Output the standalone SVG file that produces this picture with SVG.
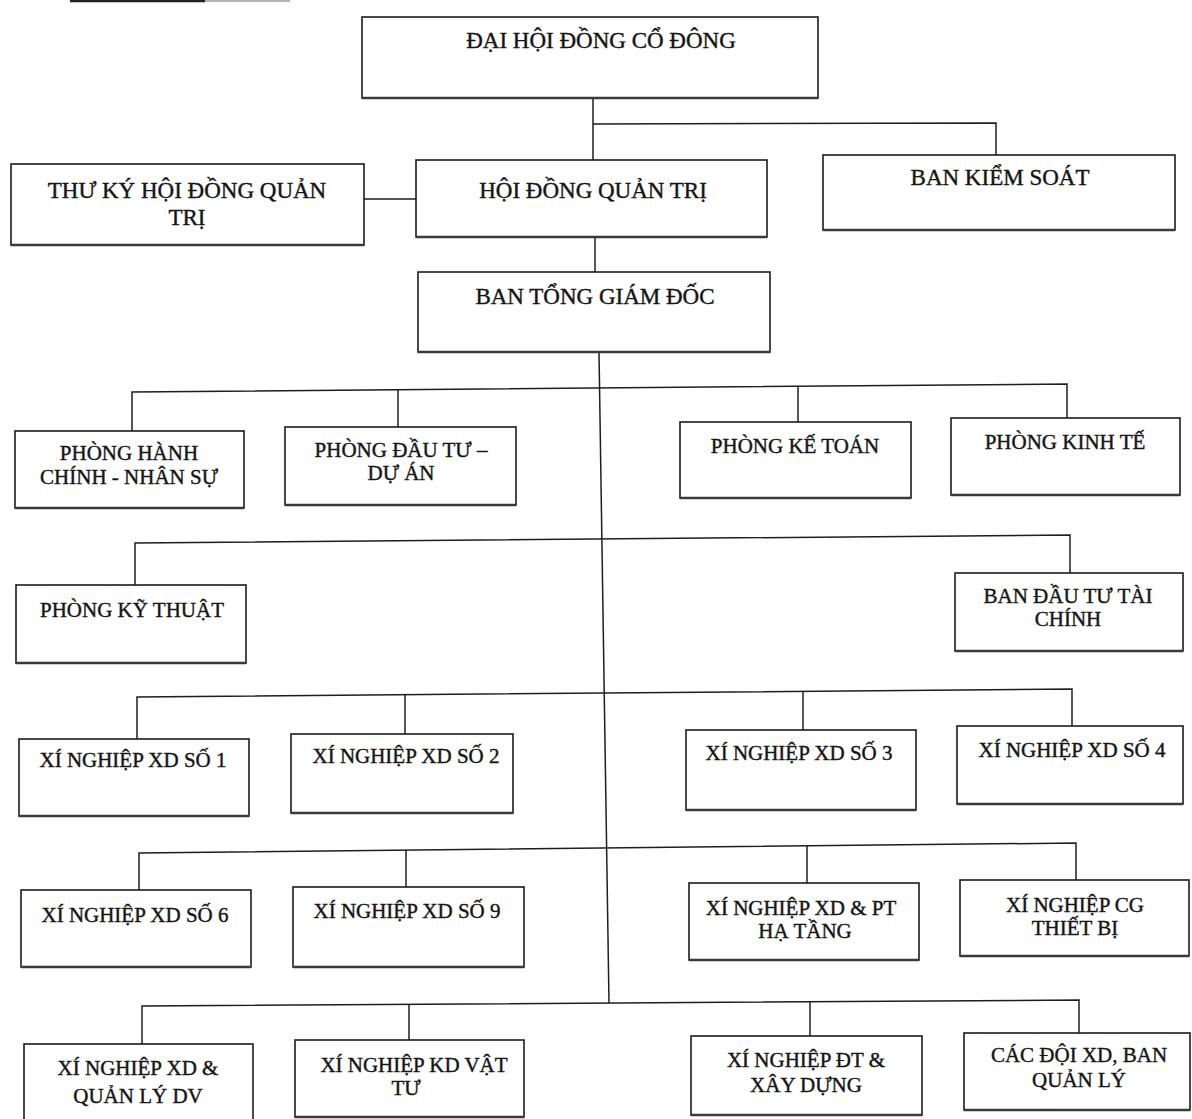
<svg xmlns="http://www.w3.org/2000/svg" width="1192" height="1119" viewBox="0 0 1192 1119">
<style>
.node rect{fill:#fff;stroke:#1c1c1c;stroke-width:1.6}
.node line{stroke:#3a3a3a;stroke-width:2.4}
.conn path{fill:none;stroke:#1e1e1e;stroke-width:1.5}
text{font-family:"Liberation Serif","Times New Roman",serif;font-size:21px;fill:#151515;stroke:#151515;stroke-width:0.4;text-anchor:middle}
.big{font-size:23px}
</style>
<rect width="1192" height="1119" fill="#fff"/>
<line x1="70" y1="1" x2="205" y2="1" stroke="#222" stroke-width="2.5"/>
<line x1="205" y1="1" x2="290" y2="1" stroke="#999" stroke-width="1.5"/>
<g id="connectors" class="conn">
<path d="M593 98V160"/>
<path d="M593 124L996 123V155"/>
<path d="M364 199H416"/>
<path d="M595 237V272"/>
<path d="M599 352L609 1003"/>
<path d="M132 431V392L1067 384V418"/>
<path d="M398 390V427"/>
<path d="M798 386V422"/>
<path d="M135 585V543L1070 535V573"/>
<path d="M137 739V697L1072 689V726"/>
<path d="M405 695V734"/>
<path d="M803 691V730"/>
<path d="M139 890V853L1076 843V880"/>
<path d="M406 850V887"/>
<path d="M807 846V883"/>
<path d="M142 1044V1006L1079 1000V1033"/>
<path d="M409 1004V1040"/>
<path d="M810 1002V1036"/>
</g>
<g id="dai-hoi-dong-co-dong" class="node"><rect x="362" y="17" width="456" height="81"/><line x1="362" y1="98" x2="818" y2="98"/><text class="big" x="601" y="48">ĐẠI HỘI ĐỒNG CỔ ĐÔNG</text></g>
<g id="thu-ky-hdqt" class="node"><rect x="11" y="164" width="353" height="81"/><line x1="11" y1="245" x2="364" y2="245"/><text class="big" x="187" y="198">THƯ KÝ HỘI ĐỒNG QUẢN</text><text class="big" x="187" y="225">TRỊ</text></g>
<g id="hoi-dong-quan-tri" class="node"><rect x="416" y="160" width="351" height="77"/><line x1="416" y1="237" x2="767" y2="237"/><text class="big" x="593" y="198">HỘI ĐỒNG QUẢN TRỊ</text></g>
<g id="ban-kiem-soat" class="node"><rect x="823" y="155" width="352" height="75"/><line x1="823" y1="230" x2="1175" y2="230"/><text class="big" x="1000" y="185">BAN KIỂM SOÁT</text></g>
<g id="ban-tong-giam-doc" class="node"><rect x="418" y="272" width="352" height="80"/><line x1="418" y1="352" x2="770" y2="352"/><text class="big" x="595" y="304">BAN TỔNG GIÁM ĐỐC</text></g>
<g id="phong-hcns" class="node"><rect x="15" y="431" width="229" height="77"/><line x1="15" y1="508" x2="244" y2="508"/><text x="129" y="460">PHÒNG HÀNH</text><text x="129" y="484">CHÍNH - NHÂN SỰ</text></g>
<g id="phong-dau-tu" class="node"><rect x="285" y="427" width="231" height="78"/><line x1="285" y1="505" x2="516" y2="505"/><text x="401" y="457">PHÒNG ĐẦU TƯ –</text><text x="401" y="480">DỰ ÁN</text></g>
<g id="phong-ke-toan" class="node"><rect x="680" y="422" width="231" height="76"/><line x1="680" y1="498" x2="911" y2="498"/><text x="795" y="453">PHÒNG KẾ TOÁN</text></g>
<g id="phong-kinh-te" class="node"><rect x="951" y="418" width="229" height="77"/><line x1="951" y1="495" x2="1180" y2="495"/><text x="1065" y="449">PHÒNG KINH TẾ</text></g>
<g id="phong-ky-thuat" class="node"><rect x="16" y="585" width="230" height="78"/><line x1="16" y1="663" x2="246" y2="663"/><text x="132" y="617">PHÒNG KỸ THUẬT</text></g>
<g id="ban-dau-tu-tai-chinh" class="node"><rect x="955" y="573" width="228" height="78"/><line x1="955" y1="651" x2="1183" y2="651"/><text x="1068" y="603">BAN ĐẦU TƯ TÀI</text><text x="1068" y="626">CHÍNH</text></g>
<g id="xn-so-1" class="node"><rect x="19" y="739" width="230" height="77"/><line x1="19" y1="816" x2="249" y2="816"/><text x="133" y="767">XÍ NGHIỆP XD SỐ 1</text></g>
<g id="xn-so-2" class="node"><rect x="291" y="734" width="222" height="79"/><line x1="291" y1="813" x2="513" y2="813"/><text x="406" y="763">XÍ NGHIỆP XD SỐ 2</text></g>
<g id="xn-so-3" class="node"><rect x="686" y="730" width="230" height="80"/><line x1="686" y1="810" x2="916" y2="810"/><text x="799" y="760">XÍ NGHIỆP XD SỐ 3</text></g>
<g id="xn-so-4" class="node"><rect x="957" y="726" width="226" height="78"/><line x1="957" y1="804" x2="1183" y2="804"/><text x="1072" y="757">XÍ NGHIỆP XD SỐ 4</text></g>
<g id="xn-so-6" class="node"><rect x="21" y="890" width="230" height="77"/><line x1="21" y1="967" x2="251" y2="967"/><text x="135" y="922">XÍ NGHIỆP XD SỐ 6</text></g>
<g id="xn-so-9" class="node"><rect x="293" y="887" width="231" height="80"/><line x1="293" y1="967" x2="524" y2="967"/><text x="407" y="918">XÍ NGHIỆP XD SỐ 9</text></g>
<g id="xn-xd-pt-ha-tang" class="node"><rect x="689" y="883" width="230" height="77"/><line x1="689" y1="960" x2="919" y2="960"/><text x="801" y="915">XÍ NGHIỆP XD &amp; PT</text><text x="805" y="938">HẠ TẦNG</text></g>
<g id="xn-cg-thiet-bi" class="node"><rect x="960" y="880" width="229" height="76"/><line x1="960" y1="956" x2="1189" y2="956"/><text x="1075" y="912">XÍ NGHIỆP CG</text><text x="1075" y="935">THIẾT BỊ</text></g>
<g id="xn-xd-quan-ly-dv" class="node"><rect x="24" y="1044" width="229" height="77"/><text x="138" y="1075">XÍ NGHIỆP XD &amp;</text><text x="138" y="1103">QUẢN LÝ DV</text></g>
<g id="xn-kd-vat-tu" class="node"><rect x="295" y="1040" width="229" height="77"/><line x1="295" y1="1117" x2="524" y2="1117"/><text x="414" y="1072">XÍ NGHIỆP KD VẬT</text><text x="406" y="1095">TƯ</text></g>
<g id="xn-dt-xay-dung" class="node"><rect x="691" y="1036" width="231" height="79"/><line x1="691" y1="1115" x2="922" y2="1115"/><text x="806" y="1067">XÍ NGHIỆP ĐT &amp;</text><text x="806" y="1092">XÂY DỰNG</text></g>
<g id="cac-doi-xd" class="node"><rect x="964" y="1033" width="226" height="77"/><line x1="964" y1="1110" x2="1190" y2="1110"/><text x="1079" y="1062">CÁC ĐỘI XD, BAN</text><text x="1079" y="1087">QUẢN LÝ</text></g>
</svg>
